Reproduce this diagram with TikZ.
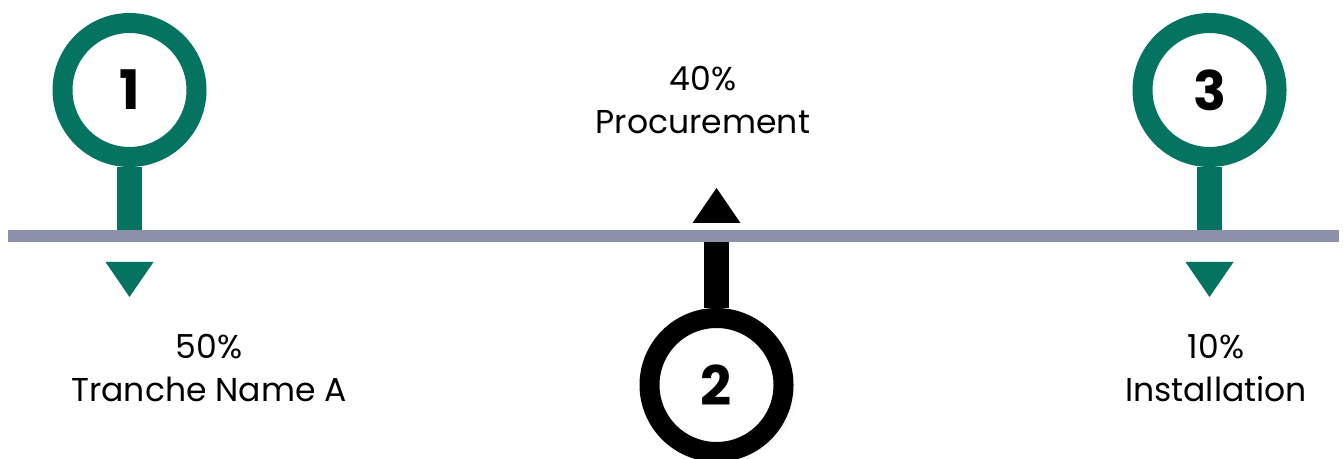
\documentclass[tikz,border=0pt]{standalone}
\usepackage{fontspec}
\setmainfont{Poppins}
\usepackage{tikz}
\usetikzlibrary{positioning,shadows.blur}
\definecolor{pingreen}{RGB}{4,115,96}
\definecolor{axisgrey}{RGB}{140,144,168}
\tikzset{
	pin/.style={circle, draw=#1, fill=white, line width=2mm, minimum size=13.4mm, inner sep=0pt,
		font=\fontsize{15.5}{15.5}\selectfont\bfseries,
		blur shadow={shadow blur steps=8, shadow xshift=0.6mm, shadow yshift=-0.6mm, shadow opacity=12}},
	stem/.style={draw=#1, line width=2.5mm},
	axis/.style={draw=axisgrey, line width=1.2mm},
	tranche/.style={align=center, inner sep=0pt, anchor=north, font=\fontsize{9.4}{12.2}\selectfont}
}

\begin{document}
\begin{tikzpicture}[x=0.1mm, y=-0.1mm]
	\clip (0,0) rectangle (1344,459);
	\coordinate (axisL) at (8,236);
	\coordinate (axisR) at (1339,236);
	\node[pin=pingreen] (c1) at (129.5,90) {1};
	\node[pin=black] (c2) at (716.5,385) {2};
	\node[pin=pingreen] (c3) at (1209.5,90) {3};
	\path
	(c1) edge[stem=pingreen] (c1 |- axisL)
	(c2) edge[stem=black] (c2 |- axisL)
	(c3) edge[stem=pingreen] (c3 |- axisL);
	\draw[axis] (axisL) -- (axisR);
	\fill[pingreen] (c1 |- 0,262) ++(-24,0) -- ++(48,0) -- ++(-24,35) -- cycle;
	\fill[black] (c2 |- 0,223) ++(-24,0) -- ++(48,0) -- ++(-24,-35) -- cycle;
	\fill[pingreen] (c3 |- 0,262) ++(-24,0) -- ++(48,0) -- ++(-24,35) -- cycle;
	\node[tranche] (t1) at (209,334) {50\%\\Tranche Name A};
	\node[tranche] (t2) at (703,66) {40\%\\Procurement};
	\node[tranche] (t3) at (1216,334) {10\%\\Installation};
\end{tikzpicture}
\end{document}
